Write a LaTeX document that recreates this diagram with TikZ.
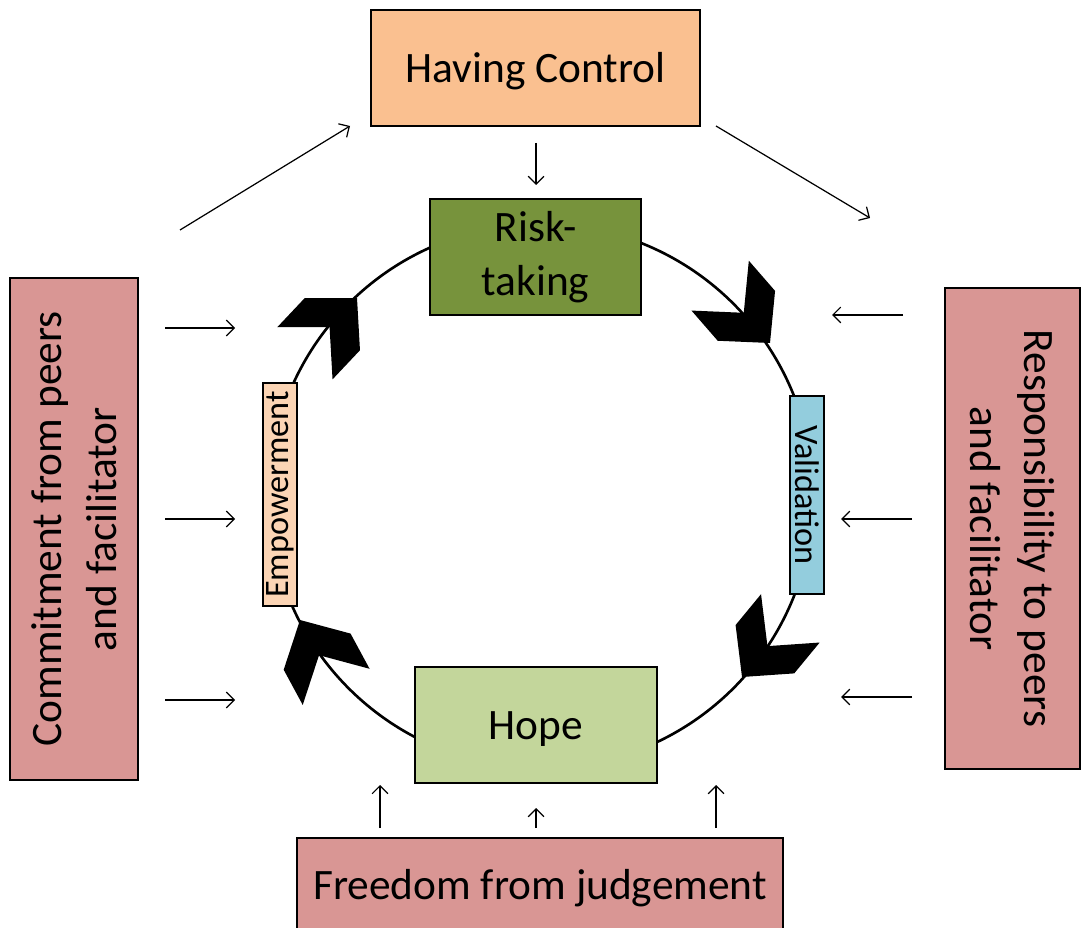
\documentclass[tikz,border=0pt]{standalone}
\usepackage{fontspec}
\setmainfont{Carlito}
\usetikzlibrary{arrows.meta}
\definecolor{controlorange}{HTML}{FAC090}
\definecolor{riskgreen}{HTML}{77933C}
\definecolor{hopegreen}{HTML}{C3D69B}
\definecolor{empowerpeach}{HTML}{FCD5B5}
\definecolor{validblue}{HTML}{93CDDD}
\definecolor{factorpink}{HTML}{D99694}
\tikzset{
  box/.style={draw, line width=1.6pt, align=center, inner sep=0pt,
    font=\fontsize{24.7}{31}\selectfont},
  oneline/.style={text height=21pt, text depth=5pt},
  smallbox/.style={box, font=\fontsize{19.5}{23}\selectfont},
  thinarrow/.style={line width=0.7pt, -{Straight Barb[length=4.5pt,width=9pt]}},
  chevron/.pic={\fill (0,0) -- (-36,-38) -- (-76,-38) -- (-40,0) -- (-76,38) -- (-36,38) -- cycle;}
}
\begin{document}
\begin{tikzpicture}[x=0.02cm,y=-0.02cm]
\useasboundingbox (0,0) rectangle (1081,928);
% the cycle
\coordinate (hub) at (541,496);
\draw[line width=1.5pt] (hub) circle [radius=272];
\node[box, oneline, fill=controlorange, minimum width=6.58cm, minimum height=2.32cm] (control) at (535.5,68) {Having Control};
\node[box, fill=riskgreen, minimum width=4.22cm, minimum height=2.32cm] (risk) at (535.5,257) {Risk-\\taking};
\node[box, oneline, fill=hopegreen, minimum width=4.84cm, minimum height=2.32cm] (hope) at (536,725) {Hope};
\node[smallbox, fill=empowerpeach, rotate=90, minimum width=4.46cm, minimum height=0.68cm] (empower) at (280,494.5) {Empowerment};
\node[smallbox, fill=validblue, rotate=-90, minimum width=3.96cm, minimum height=0.68cm] (valid) at (807,495) {Validation};
% chevrons on the circle
\pic[rotate=-49] at (770,343) {chevron};
\pic[rotate=-129.5] at (742,677) {chevron};
\pic[rotate=118.4] at (300,620) {chevron};
\pic[rotate=46.7] at (357,298) {chevron};
% outside factors
\node[box, fill=factorpink, rotate=90, minimum width=10.04cm, minimum height=2.56cm] (commit) at (74,529) {Commitment from peers\\and facilitator};
\node[box, fill=factorpink, rotate=-90, minimum width=9.62cm, minimum height=2.7cm] (respons) at (1012.5,528.5) {Responsibility to peers\\and facilitator};
\node[box, fill=factorpink, minimum width=9.72cm, minimum height=2cm] (freedom) at (540,888) {Freedom from judgement};
% small arrows
\coordinate (ca) at (180,230); \coordinate (cb) at (350,126);
\draw[thinarrow] (ca) -- (cb);
\coordinate (cc) at (536,143); \coordinate (cd) at (536,185);
\draw[thinarrow] (cc) -- (cd);
\coordinate (ce) at (716,126); \coordinate (cf) at (870,218);
\draw[thinarrow] (ce) -- (cf);
\foreach \y [count=\i] in {328,519,700} {
  \coordinate (la\i) at (165,\y); \coordinate (lb\i) at (235,\y);
  \draw[thinarrow] (la\i) -- (lb\i);
}
\foreach \y/\x [count=\i] in {315/903,519/912,697/912} {
  \coordinate (ra\i) at (\x,\y); \coordinate (rb\i) at (\x-71,\y);
  \draw[thinarrow] (ra\i) -- (rb\i);
}
\foreach \x/\y [count=\i] in {380/785,536/808,716/785} {
  \coordinate (ba\i) at (\x,828); \coordinate (bb\i) at (\x,\y);
  \draw[thinarrow] (ba\i) -- (bb\i);
}
\end{tikzpicture}
\end{document}
